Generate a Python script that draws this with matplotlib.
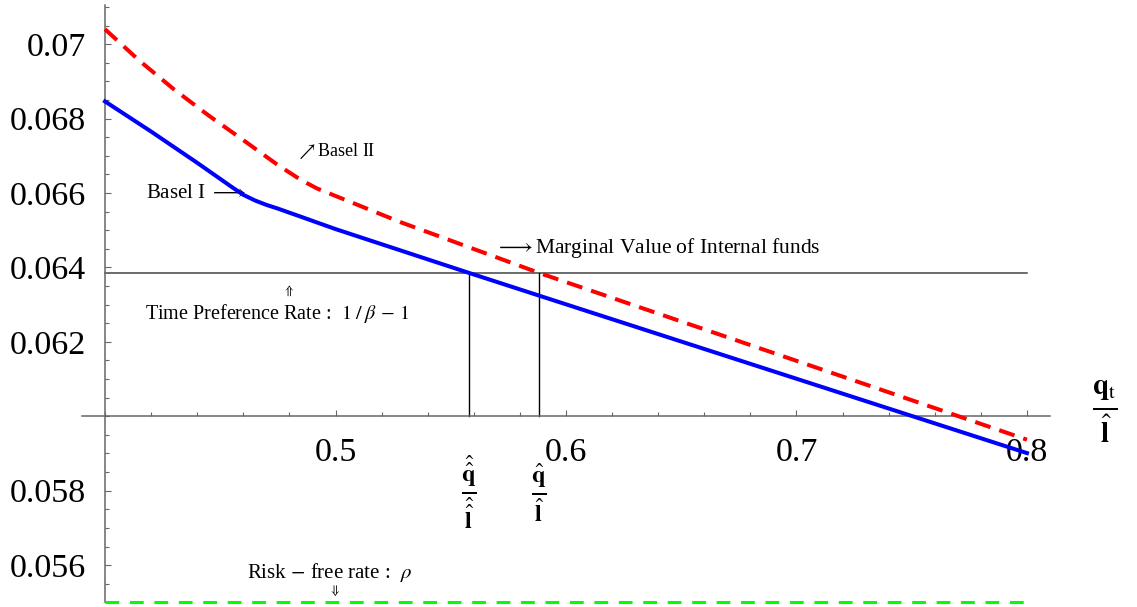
import matplotlib
matplotlib.use("Agg")
import matplotlib.pyplot as plt
from matplotlib.ticker import FixedLocator, MultipleLocator

plt.rcParams["font.family"] = ["Liberation Serif", "DejaVu Serif"]
plt.rcParams["mathtext.fontset"] = "stix"

# ----------------------------------------------------------------------
# Values
# ----------------------------------------------------------------------
basel1_x = [0.400, 0.420, 0.440, 0.455, 0.460, 0.465, 0.470, 0.475, 0.480, 0.4846, 0.490, 0.500,
            0.558, 0.5884, 0.7449, 0.800]
basel1_y = [0.06846, 0.06765, 0.06681, 0.06616, 0.06595, 0.06580, 0.06568, 0.06558, 0.06547,
            0.06537, 0.06525, 0.06503, 0.06385, 0.06324, 0.06011, 0.05901]

basel2_x = [0.400, 0.415, 0.430, 0.445, 0.460, 0.475, 0.485, 0.492, 0.500, 0.528, 0.5884, 0.7449, 0.800]
basel2_y = [0.07040, 0.06955, 0.06878, 0.06808, 0.06742, 0.06675, 0.06635, 0.06612, 0.06592,
            0.06522, 0.06385, 0.06054, 0.05937]

time_pref_rate = 0.06385
risk_free_rate = 0.0550
q_hat_hat = 0.558   # Basel I crossing
q_hat = 0.5884      # Basel II crossing
x_range = [0.40, 0.80]

x_major = [0.5, 0.6, 0.7, 0.8]
y_major = [0.056, 0.058, 0.062, 0.064, 0.066, 0.068, 0.070]
x_labels = ["0.5", "0.6", "0.7", "0.8"]
y_labels = ["0.056", "0.058", "0.062", "0.064", "0.066", "0.068", "0.07"]

fig = plt.figure(figsize=(11.37, 6.07), dpi=100)
ax = fig.add_axes([0.0721, 0.0077, 0.8514, 0.984])
ax.set_xlim(0.39, 0.81)
ax.set_ylim(0.055, 0.07105)

# Mathematica-style crossing axes
for side in ("top", "right"):
    ax.spines[side].set_visible(False)
ax.spines["left"].set_position(("data", 0.4))
ax.spines["bottom"].set_position(("data", 0.06))
for side in ("left", "bottom"):
    ax.spines[side].set_color("#666666")
    ax.spines[side].set_linewidth(1.1)

ax.xaxis.set_major_locator(FixedLocator(x_major))
ax.xaxis.set_minor_locator(MultipleLocator(0.02))
ax.yaxis.set_major_locator(FixedLocator(y_major))
ax.yaxis.set_minor_locator(MultipleLocator(0.0005))
ax.set_xticklabels(x_labels)
ax.set_yticklabels(y_labels)
ax.tick_params(which="both", direction="in", color="#666666", width=0.8, labelsize=24.5)
ax.tick_params(which="major", length=4.5)
ax.tick_params(which="minor", length=3)
ax.tick_params(axis="x", which="major", pad=15)
ax.tick_params(axis="y", which="major", pad=14)

# reference lines
ax.plot(x_range, [time_pref_rate, time_pref_rate], color="#444444", lw=1.1, zorder=2)
ax.plot([q_hat_hat, q_hat_hat], [0.06, time_pref_rate], color="black", lw=1.0, zorder=2)
ax.plot([q_hat, q_hat], [0.06, time_pref_rate], color="black", lw=1.0, zorder=2)
ax.plot(x_range, [risk_free_rate, risk_free_rate], color="#00ff00", lw=2.2,
        dashes=(4.5, 3.5), clip_on=False, zorder=3)

# curves
ax.plot(basel1_x, basel1_y, color="#0000ff", lw=2.9, zorder=4, solid_joinstyle="round")
ax.plot(basel2_x, basel2_y, color="#ff0000", lw=2.9, dashes=(4.0, 2.3), zorder=4)

# annotations
ax.text(0.4612, 0.06598, r"Basel I $\longrightarrow$", fontsize=15, ha="right", va="center")
ax.text(0.4830, 0.06712, r"$\nearrow$Basel II", fontsize=13, ha="left", va="center")
ax.text(0.5694, 0.06452, r"$\longrightarrow$Marginal Value of Internal funds", fontsize=15.5,
        ha="left", va="center")
ax.text(0.4798, 0.06338, r"$\Uparrow$", fontsize=9, ha="center", va="center")
ax.text(0.4174, 0.06277, r"Time Preference Rate :  $1\;/\;\beta\,-\,1$", fontsize=14.5,
        ha="left", va="center")
ax.text(0.4616, 0.05580, r"Risk $-$ free rate :  $\rho$", fontsize=15, ha="left", va="center")
ax.text(0.4998, 0.05530, r"$\Downarrow$", fontsize=9, ha="center", va="center")

ax.text(q_hat_hat, 0.05795, r"$\frac{\hat{\hat{\mathbf{q}}}}{\hat{\hat{\mathbf{l}}}}$",
        fontsize=25, ha="center", va="center")
ax.text(q_hat, 0.05795, r"$\frac{\hat{\mathbf{q}}}{\hat{\mathbf{l}}}$",
        fontsize=25, ha="center", va="center")
ax.text(0.8338, 0.06013, r"$\frac{\mathbf{q}_{\rm t}}{\hat{\mathbf{l}}}$",
        fontsize=30, ha="center", va="center", clip_on=False)

fig.savefig("out.png", dpi=100)
